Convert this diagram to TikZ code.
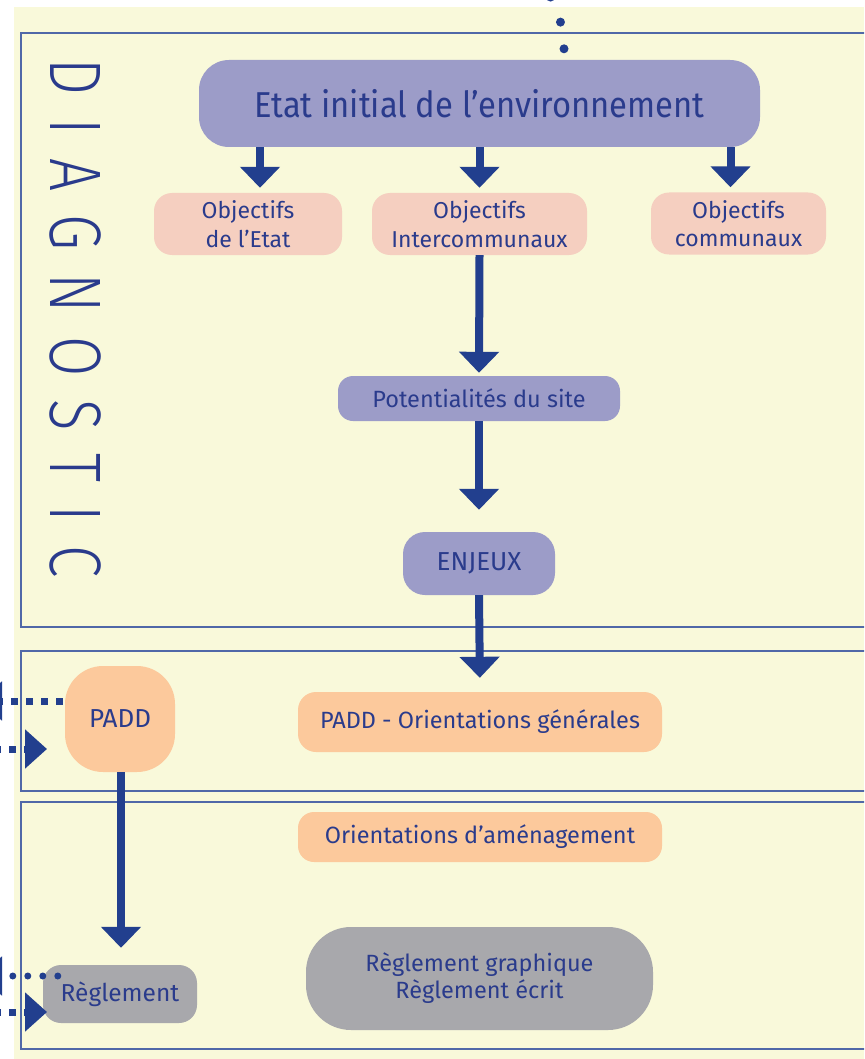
\documentclass[tikz,border=0pt]{standalone}
\usepackage{fontspec}
\setmainfont{Fira Sans}
\newfontfamily\condfont{Fira Sans}[FakeStretch=0.91]
\newfontfamily\diagfont{Fira Sans Light}[FakeStretch=0.80,LetterSpace=32]
\usetikzlibrary{arrows.meta}

\definecolor{cream}{HTML}{F9F9DA}
\definecolor{frame}{HTML}{5068A8}
\definecolor{ink}{HTML}{2A3B8C}
\definecolor{arrowblue}{HTML}{223F8E}
\definecolor{lilac}{HTML}{9C9CC8}
\definecolor{rose}{HTML}{F5CFC0}
\definecolor{apricot}{HTML}{FCC99C}
\definecolor{slate}{HTML}{A8A8AC}

\tikzset{
  box/.style={rounded corners=#1, inner sep=0pt, align=center, text=ink},
  panel/.style={draw=frame, line width=2.5pt},
  flow/.style={draw=arrowblue, line width=8pt,
    -{Triangle[width=39pt,length=21pt]}},
  sqdots/.style={draw=arrowblue, line width=7pt, dash pattern=on 7pt off 8pt,
    -{Triangle[width=38pt,length=22pt]}},
  rddots/.style={draw=arrowblue, line width=7pt, line cap=round,
    dash pattern=on 0pt off 15pt, -{Triangle[width=38pt,length=22pt]}},
  feedline/.style={draw=arrowblue, line width=9pt, line cap=round,
    dash pattern=on 0pt off 27pt},
  objfont/.style={font=\fontsize{23}{28.5}\selectfont},
  lblfont/.style={font=\fontsize{23.5}{27}\selectfont},
  capsfont/.style={font=\fontsize{26}{30}\selectfont},
}

\begin{document}
\begin{tikzpicture}[x=1pt, y=-1pt]
  \useasboundingbox (0,0) rectangle (864,1059);
  \clip (0,0) rectangle (864,1059);

  % page background
  \fill[cream] (14,7) rectangle (864,1059);

  % the three bands
  \draw[panel] (21,33) rectangle (880,627);
  \draw[panel] (21,651) rectangle (880,791);
  \draw[panel] (21,802) rectangle (880,1049);

  % band title
  \node[rotate=-90, anchor=west, inner sep=0pt, text=ink,
        font=\diagfont\fontsize{73}{73}\selectfont] (diag) at (76,58) {DIAGNOSTIC};

  % boxes
  \node[box=30pt, fill=lilac, minimum width=561pt, minimum height=87pt,
        font=\condfont\fontsize{36}{42}\selectfont] (etat) at (479.5,103.5)
        {Etat initial de l’environnement};

  \node[box=18pt, fill=rose, minimum width=188pt, minimum height=62pt, objfont]
        (objE) at (248,224) {Objectifs\\de l’Etat};
  \node[box=18pt, fill=rose, minimum width=215pt, minimum height=62pt, objfont]
        (objI) at (479.5,224) {Objectifs\\Intercommunaux};
  \node[box=18pt, fill=rose, minimum width=175pt, minimum height=62pt, objfont]
        (objC) at (738.5,223.5) {Objectifs\\communaux};

  \node[box=15pt, fill=lilac, minimum width=282pt, minimum height=45pt, lblfont]
        (pot) at (479,398.5) {Potentialités du site};
  \node[box=22pt, fill=lilac, minimum width=152pt, minimum height=63pt, capsfont]
        (enj) at (479,563.5) {ENJEUX};

  \node[box=18pt, fill=apricot, minimum width=364pt, minimum height=60pt, lblfont]
        (paddog) at (480,722) {PADD - Orientations générales};
  \node[box=38pt, fill=apricot, minimum width=110pt, minimum height=106pt, capsfont]
        (padd) at (120,719) {PADD};
  \node[box=16pt, fill=apricot, minimum width=364pt, minimum height=50pt, lblfont]
        (orient) at (480,837) {Orientations d’aménagement};

  \node[box=45pt, fill=slate, minimum width=347pt, minimum height=103pt, lblfont]
        (reggr) at (479.5,978.5) {Règlement graphique\\Règlement écrit};
  \node[box=18pt, fill=slate, minimum width=154pt, minimum height=58pt,
        font=\fontsize{24.5}{28}\selectfont]
        (reg) at (120,994) {Règlement};

  % incoming feed from above
  \coordinate (feedtop) at (535,-30);
  \draw[feedline] ([shift={(84.5pt,11pt)}]etat.north)
        .. controls (564,25) and (557,5) .. (feedtop);

  % main flow
  \draw[flow, shorten >=5pt] ([xshift=12pt]objE.north |- etat.south) -- ([xshift=12pt]objE.north);
  \draw[flow, shorten >=5pt] (objI.north |- etat.south) -- (objI.north);
  \draw[flow, shorten >=5pt] ([xshift=-8pt]objC.north |- etat.south) -- ([xshift=-8pt]objC.north);
  \draw[flow, shorten >=3pt] (objI.south) -- (pot.north);
  \draw[flow, shorten >=22pt] (pot.south) -- (enj.north);
  \draw[flow, shorten >=14pt] (enj.south) -- (paddog.north);
  \draw[flow, shorten >=17pt] ([xshift=1pt]padd.south) -- ([xshift=1pt]reg.north);

  % links to the outside, left margin
  \coordinate (paddout) at (-20,701);
  \coordinate (paddsrc) at (-6,749);
  \coordinate (paddin) at (47,749);
  \coordinate (regout) at (-20,976);
  \coordinate (regsrc) at (-6,1012);
  \coordinate (regin) at (47,1012);
  \draw[sqdots] ([shift={(-2pt,18pt)}]padd.west) -- (paddout);
  \draw[sqdots] (paddsrc) -- (paddin);
  \draw[rddots] ([shift={(15pt,18pt)}]reg.west) -- (regout);
  \draw[sqdots] (regsrc) -- (regin);
\end{tikzpicture}
\end{document}
